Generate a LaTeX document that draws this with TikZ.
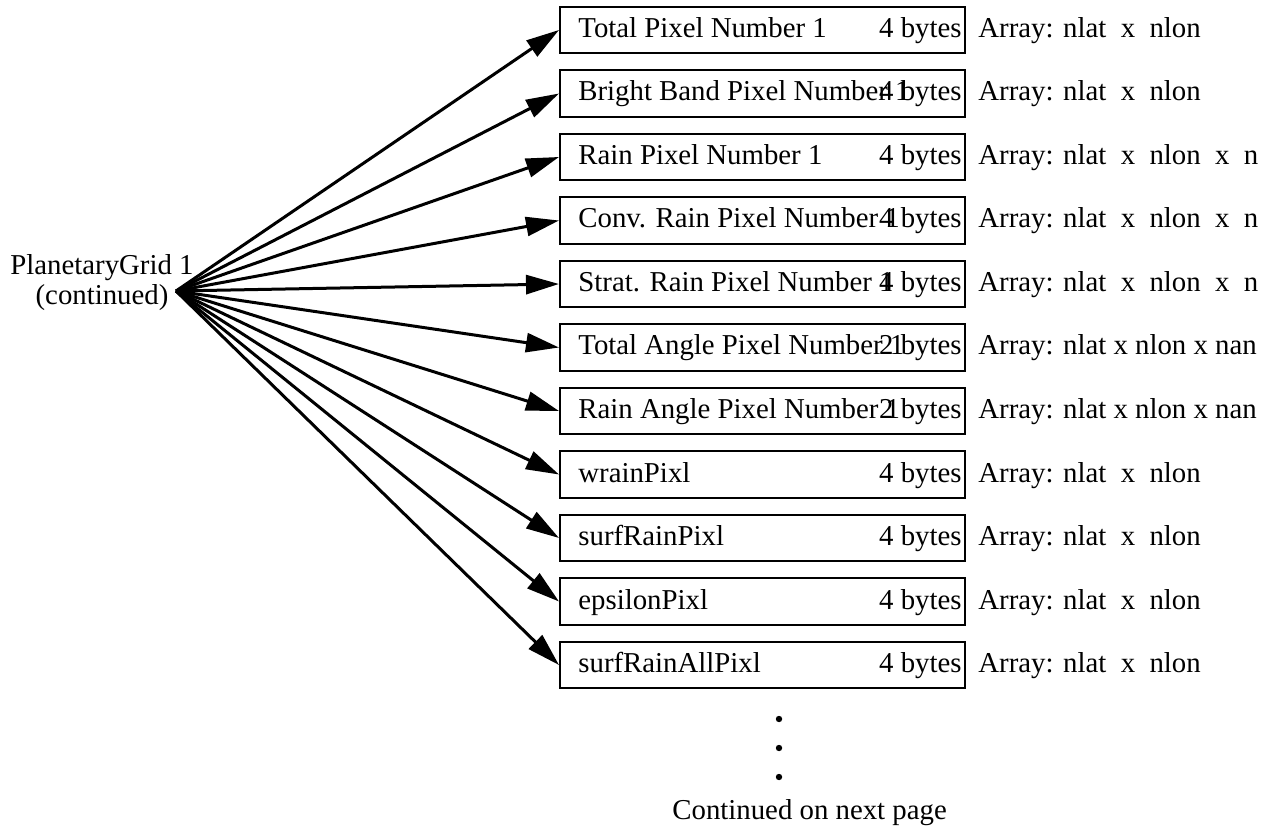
\documentclass[tikz,border=0pt]{standalone}
\usepackage{fontspec}
\setmainfont{Liberation Serif}
\newfontfamily\tnrfont{Liberation Serif}
\usetikzlibrary{arrows.meta}
\begin{document}
\begin{tikzpicture}[x=0.5pt,y=-0.5pt,
  every node/.style={font=\tnrfont\fontsize{14.4pt}{15pt}\selectfont},
  fieldbox/.style={draw, line width=1pt, minimum width=202.5pt, minimum height=23.4pt, inner sep=0pt},
  nametext/.style={anchor=base west, inner sep=0pt},
  sizetext/.style={anchor=base east, inner sep=0pt},
  arraytext/.style={anchor=base west, inner sep=0pt},
  conn/.style={line width=1.5pt, -{Triangle[length=16.5pt, width=9.5pt]}},
  dotnode/.style={circle, fill=black, inner sep=0pt, minimum size=3.2pt}
]
\useasboundingbox (0,0) rectangle (1273,828);
\clip (0,0) rectangle (1273,828);

\node[align=center, inner sep=0pt, anchor=base] (pg) at (102,305) {PlanetaryGrid 1\\(continued)};
\coordinate (src) at (176,291);

\foreach \i/\name/\size/\arr in {
  1/Total Pixel Number 1/4 bytes/{Array: nlat~~x~~nlon},
  2/Bright Band Pixel Number 1/4 bytes/{Array: nlat~~x~~nlon},
  3/Rain Pixel Number 1/4 bytes/{Array: nlat~~x~~nlon~~x~~n},
  4/Conv. Rain Pixel Number 1/4 bytes/{Array: nlat~~x~~nlon~~x~~n},
  5/Strat. Rain Pixel Number 1/4 bytes/{Array: nlat~~x~~nlon~~x~~n},
  6/Total Angle Pixel Number 1/2 bytes/{Array: nlat x nlon x nan},
  7/Rain Angle Pixel Number 1/2 bytes/{Array: nlat x nlon x nan},
  8/wrainPixl/4 bytes/{Array: nlat~~x~~nlon},
  9/surfRainPixl/4 bytes/{Array: nlat~~x~~nlon},
  10/epsilonPixl/4 bytes/{Array: nlat~~x~~nlon},
  11/surfRainAllPixl/4 bytes/{Array: nlat~~x~~nlon}} {
  \pgfmathsetmacro{\yc}{30+(\i-1)*63.5}
  \node[fieldbox] (b\i) at (762.5,\yc) {};
  \node[nametext] (n\i) at (578,\yc+7.5) {\name};
  \node[sizetext] (s\i) at (962,\yc+7.5) {\size};
  \node[arraytext] (a\i) at (978,\yc+7.5) {\arr};
  \draw[conn] (src) -- (b\i.west);
}

\node[dotnode] (d1) at (779,719) {};
\node[dotnode] (d2) at (779,748) {};
\node[dotnode] (d3) at (779,777) {};
\node[anchor=base west, inner sep=0pt] (cont) at (672,819) {Continued on next page};
\end{tikzpicture}
\end{document}
